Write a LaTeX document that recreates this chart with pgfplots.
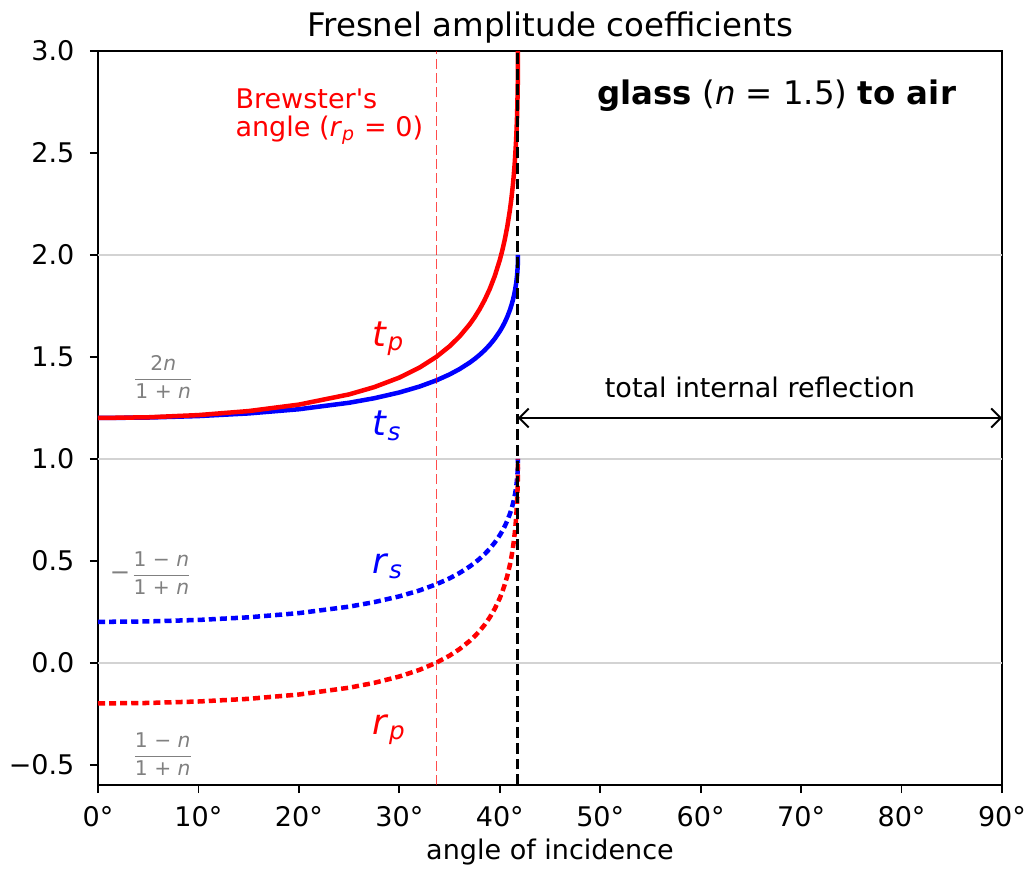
\documentclass[border=0pt]{standalone}
\usepackage{pgfplots}
\pgfplotsset{compat=1.18}
\usepackage{pgfplotstable}
\usepackage{fontspec}
\setmainfont{DejaVu Sans}
\usetikzlibrary{arrows.meta}
\definecolor{gridgray}{RGB}{211,211,211}
\definecolor{fracgray}{RGB}{128,128,128}

\pgfplotstableread{
a rs ts rp tp
0 0.2 1.2 -0.2 1.2
5 0.20230 1.20230 -0.19769 1.20347
10 0.20949 1.20949 -0.19047 1.21430
15 0.22246 1.22246 -0.17733 1.23401
20 0.24303 1.24303 -0.15619 1.26572
25 0.27478 1.27478 -0.12281 1.31579
27.5 0.29692 1.29692 -0.09901 1.35149
30 0.32523 1.32523 -0.06788 1.39818
32 0.35410 1.35410 -0.03532 1.44702
33.69 0.38462 1.38462 0.0 1.5
35 0.41362 1.41362 0.03450 1.55175
36 0.44006 1.44006 0.06675 1.60012
37 0.47153 1.47153 0.10617 1.65926
37.5 0.48971 1.48971 0.12948 1.69421
38 0.50995 1.50995 0.15592 1.73388
38.5 0.53275 1.53275 0.18630 1.77945
39 0.55874 1.55874 0.22178 1.83267
39.5 0.58894 1.58894 0.26416 1.89623
40 0.62491 1.62491 0.31633 1.97450
40.25 0.64587 1.64587 0.34760 2.02141
40.5 0.66949 1.66949 0.38367 2.07551
40.75 0.69663 1.69663 0.42621 2.13932
41 0.72868 1.72868 0.47805 2.21708
41.15 0.75128 1.75128 0.51567 2.27350
41.3 0.77740 1.77740 0.56031 2.34047
41.4 0.79788 1.79788 0.59624 2.39436
41.5 0.82162 1.82162 0.63889 2.45834
41.6 0.85058 1.85058 0.69252 2.53878
41.65 0.86821 1.86821 0.72603 2.58904
41.7 0.88932 1.88932 0.76707 2.65061
41.725 0.90198 1.90198 0.79218 2.68827
41.75 0.91688 1.91688 0.82221 2.73332
41.78 0.94041 1.94041 0.87074 2.80611
41.79 0.95091 1.95091 0.89283 2.83925
41.8 0.96469 1.96469 0.92226 2.88339
41.805 0.97466 1.97466 0.94387 2.91581
41.809 0.98733 1.98733 0.97172 2.95758
41.8103 1.0 2.0 1.0 3.0
}\fresnel

\begin{document}
\begin{tikzpicture}
\useasboundingbox (-36.26pt,-31.08pt) rectangle (344.1pt,290.45pt);
\begin{axis}[
  scale only axis,
  width=334.48pt, height=271.58pt,
  xmin=0, xmax=90, ymin=-0.6, ymax=3.0,
  xtick={0,10,20,30,40,50,60,70,80,90},
  xticklabels={0°,10°,20°,30°,40°,50°,60°,70°,80°,90°},
  ytick={-0.5,0,0.5,1,1.5,2,2.5,3},
  yticklabels={−0.5,0.0,0.5,1.0,1.5,2.0,2.5,3.0},
  tick pos=left, tick align=outside, major tick length=3pt,
  every tick/.style={black, line width=0.67pt},
  axis line style={line width=0.67pt},
  tick label style={font=\fontsize{10}{12}\selectfont},
  xticklabel style={anchor=base, yshift=-12.5pt},
  yticklabel style={anchor=east, xshift=-2.2pt},
  title={Fresnel amplitude coefficients},
  title style={font=\fontsize{12}{14}\selectfont, at={(axis description cs:0.5,1)}, anchor=base, yshift=-0.8pt},
  xlabel={angle of incidence},
  xlabel style={font=\fontsize{10}{12}\selectfont, at={(axis description cs:0.5,0)}, anchor=base, yshift=-27.4pt},
  clip=true,
]
\draw[gridgray, line width=0.75pt] (axis cs:0,0) -- (axis cs:90,0);
\draw[gridgray, line width=0.75pt] (axis cs:0,1) -- (axis cs:90,1);
\draw[gridgray, line width=0.75pt] (axis cs:0,2) -- (axis cs:90,2);

\addplot[blue, line width=1.67pt, line join=round] table[x=a,y=ts]{\fresnel};
\addplot[red, line width=1.67pt, line join=round] table[x=a,y=tp]{\fresnel};
\addplot[blue, line width=1.67pt, dash pattern=on 2.6pt off 1.5pt] table[x=a,y=rs]{\fresnel};
\addplot[red, line width=1.67pt, dash pattern=on 2.6pt off 1.5pt] table[x=a,y=rp]{\fresnel};

\draw[red, opacity=0.7, line width=0.55pt, dash pattern=on 3.7pt off 1.6pt] (axis cs:33.69,-0.6) -- (axis cs:33.69,3.0);
\draw[black, line width=1.1pt, dash pattern=on 4pt off 1.8pt] (axis cs:41.8103,-0.6) -- (axis cs:41.8103,3.0);
\draw[black, line width=0.7pt, {Straight Barb[length=3.5pt,width=7pt]}-{Straight Barb[length=3.5pt,width=7pt]}] (axis cs:41.8103,1.2) -- (axis cs:90,1.2);

\node[anchor=base, font=\fontsize{10}{12}\selectfont, inner sep=0pt] at (axis cs:65.9,1.299) {total internal reflection};

\node[anchor=base west, red, font=\fontsize{13}{15}\selectfont, inner sep=0pt] at (axis cs:27.3,1.553) {\textit{t}\textsubscript{\textit{p}}};
\node[anchor=base west, blue, font=\fontsize{13}{15}\selectfont, inner sep=0pt] at (axis cs:27.3,1.113) {\textit{t}\textsubscript{\textit{s}}};
\node[anchor=base west, blue, font=\fontsize{13}{15}\selectfont, inner sep=0pt] at (axis cs:27.3,0.438) {\textit{r}\textsubscript{\textit{s}}};
\node[anchor=base west, red, font=\fontsize{13}{15}\selectfont, inner sep=0pt] at (axis cs:27.3,-0.354) {\textit{r}\textsubscript{\textit{p}}};

\node[anchor=base west, red, font=\fontsize{10}{12}\selectfont, inner sep=0pt] at (axis cs:13.64,2.717) {Brewster\textquotesingle s};
\node[anchor=base west, red, font=\fontsize{10}{12}\selectfont, inner sep=0pt] at (axis cs:13.64,2.579) {angle (\textit{r}\textsubscript{\textit{p}} = 0)};

\node[anchor=base west, font=\fontsize{12}{14}\selectfont, inner sep=0pt] at (axis cs:49.65,2.736) {\textbf{glass} (\textit{n} = 1.5) \textbf{to air}};

\node[fracgray, font=\fontsize{7.5}{9}\selectfont, inner sep=0pt] at (axis cs:6.5,1.40) {$\displaystyle\frac{\mbox{2\textit{n}}}{\mbox{1 + \textit{n}}}$};
\node[fracgray, font=\fontsize{7.5}{9}\selectfont, inner sep=0pt] at (axis cs:5.3,0.44) {{\fontsize{9}{10}\selectfont −}$\displaystyle\frac{\mbox{1 − \textit{n}}}{\mbox{1 + \textit{n}}}$};
\node[fracgray, font=\fontsize{7.5}{9}\selectfont, inner sep=0pt] at (axis cs:6.45,-0.45) {$\displaystyle\frac{\mbox{1 − \textit{n}}}{\mbox{1 + \textit{n}}}$};
\end{axis}
\end{tikzpicture}
\end{document}
